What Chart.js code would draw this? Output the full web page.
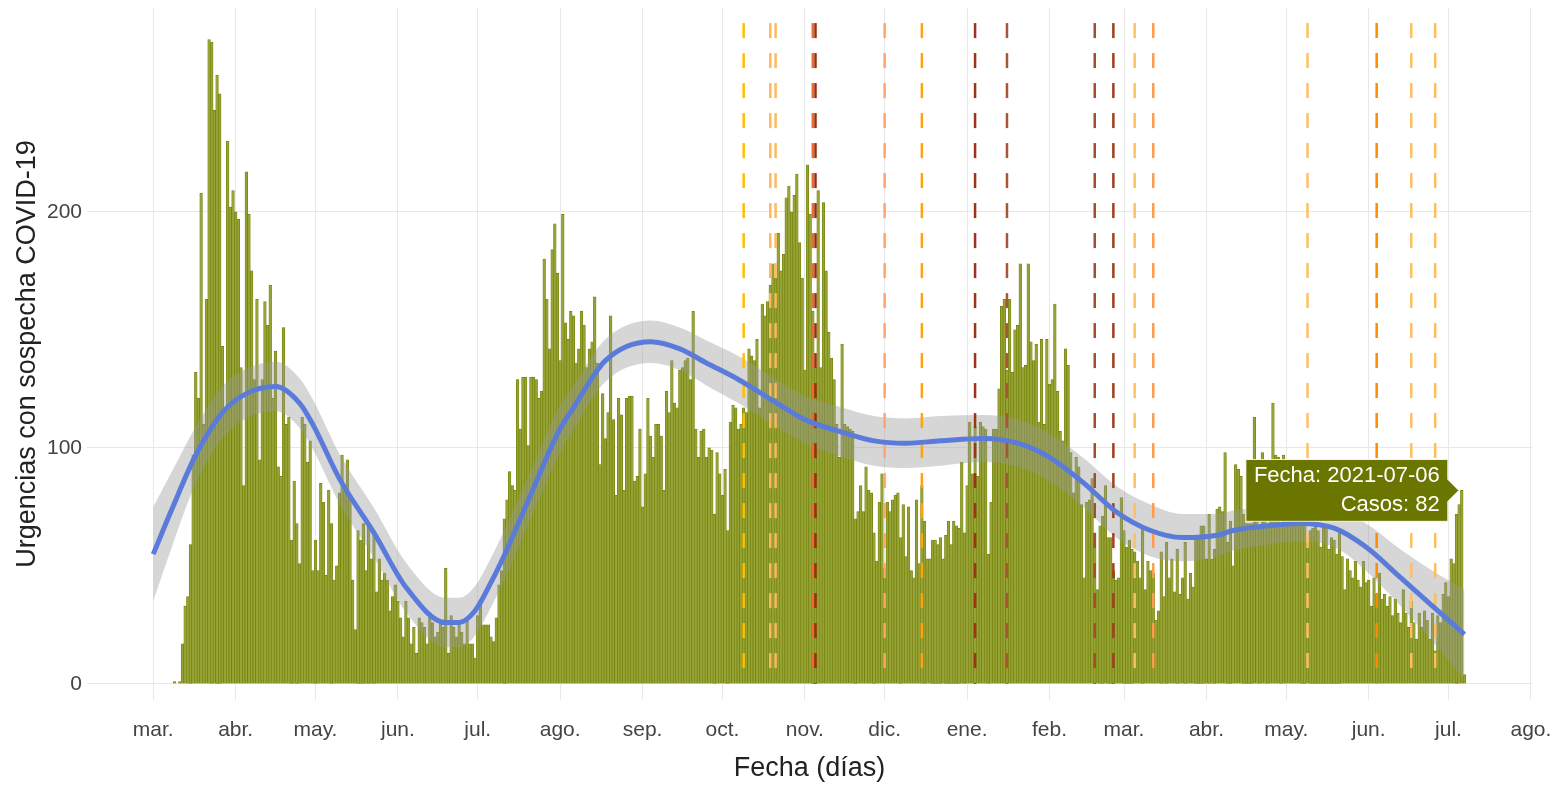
<!DOCTYPE html>
<html lang="es">
<head>
<meta charset="utf-8">
<title>Urgencias con sospecha COVID-19</title>
<script src="https://cdn.jsdelivr.net/npm/chart.js@4.4.1/dist/chart.umd.min.js"></script>
<style>
  html, body { margin: 0; padding: 0; background: #fff; }
  #grafico { display: block; }
</style>
</head>
<body>
<canvas id="grafico" width="1560" height="785"></canvas>
<script>
// Fechas base
const ORIGEN = '2020-03-01';
const fechaInicio = '2020-03-09';

// Urgencias diarias desde fechaInicio (una por dia)
const casos = [
    1, 0, 1,
    17, 33, 37, 59, 97, 132, 121, 208, 110, 163,
    273, 272, 243, 258, 250, 143, 116, 230, 202, 209,
    200, 197, 134, 84, 217, 199, 175, 129, 163, 95,
    129, 162, 152, 169, 121, 141, 92, 88, 151, 110,
    113, 61, 86, 68, 51, 113, 110, 94, 103, 48,
    61, 48, 85, 77, 46, 82, 68, 44, 50, 81,
    97, 83, 95, 79, 44, 23, 65, 61, 68, 48,
    67, 53, 63, 39, 53, 44, 47, 44, 31, 37,
    42, 35, 28, 20, 35, 28, 17, 24, 13, 28,
    26, 24, 17, 30, 26, 20, 22, 26, 24, 49,
    13, 29, 24, 20, 26, 22, 17, 28, 17, 17,
    11, 29, 35, 25, 25, 25, 20, 18, 28, 42,
    48, 70, 78, 90, 84, 82, 129, 108, 130, 130,
    101, 130, 130, 129, 121,
    124, 180, 163, 142, 184, 195, 174, 137, 199, 153,
    146, 158, 156, 136, 142, 158, 152, 134, 142, 145,
    164, 136, 93, 123, 104, 115, 156, 112, 80, 121,
    114, 82, 121, 122, 122, 86, 88, 108, 75, 89,
    121, 105, 96, 110, 110, 105, 82, 124, 115, 137,
    119, 117, 133, 134, 137, 138, 129, 158, 108, 96,
    107, 108, 96, 100, 99, 72, 98, 89, 80, 91,
    65, 111, 118, 117, 108, 110, 117, 115, 142, 139,
    137, 146, 117, 161, 156, 162, 169, 178, 172, 191,
    175, 182, 206, 211, 200, 207, 216, 187, 172, 133,
    220, 199, 158, 134, 209, 134, 204, 175, 149, 138,
    129, 110, 96, 144, 110, 109, 108, 107, 70, 73,
    84, 73, 92, 82, 81, 64, 52, 77, 89, 49,
    77, 73, 78, 80, 81, 62, 76, 54, 75, 48,
    45, 78, 51, 84, 69, 53, 53, 61, 61, 59,
    62, 53, 63, 69,
    59, 69, 67, 66, 94, 64, 84, 111, 89, 109,
    88, 111, 109, 108, 55, 77, 108, 108, 125, 160,
    163, 133, 163, 132, 150, 152, 178, 134, 135, 178,
    145, 137, 144, 111, 146, 110, 146, 127, 129, 161,
    124, 107, 103, 142, 135, 98, 81, 96, 92, 76,
    45, 77, 78, 87, 64, 40, 67, 71, 84, 62,
    62, 48, 44, 45, 79, 65, 58, 61, 57, 56,
    52, 45, 66, 40, 52, 48, 47, 27, 31, 56,
    37, 60, 45, 53, 39, 57, 38, 45, 60, 36,
    47, 41, 63, 63, 67, 67, 53, 72, 53, 57,
    74,
    75, 73, 98, 60, 69, 50, 93, 91, 88, 72,
    68, 68, 68, 113, 85, 67, 98, 91, 67, 93,
    119, 97, 96, 68, 97, 86, 78, 92, 80, 75,
    88, 70, 72,
    60, 65, 66, 67, 65, 58, 66, 66, 57, 62,
    61, 55, 65, 54, 40, 53, 48, 45, 52, 44,
    41, 52, 43, 44, 33, 45, 38, 47, 36, 38,
    33, 37, 29, 36, 30, 26, 40, 30, 24, 35,
    26, 19, 30, 24, 31, 27, 19, 30, 14, 29,
    26, 38, 43, 37, 53, 51, 72, 76, 82,
    4
];

// Eje x: meses
const mesesFechas = [
    '2020-03-01', '2020-04-01', '2020-05-01', '2020-06-01', '2020-07-01', '2020-08-01',
    '2020-09-01', '2020-10-01', '2020-11-01', '2020-12-01', '2021-01-01', '2021-02-01',
    '2021-03-01', '2021-04-01', '2021-05-01', '2021-06-01', '2021-07-01', '2021-08-01'
];
const mesesEtiquetas = [
    'mar.', 'abr.', 'may.', 'jun.', 'jul.', 'ago.', 'sep.', 'oct.', 'nov.',
    'dic.', 'ene.', 'feb.', 'mar.', 'abr.', 'may.', 'jun.', 'jul.', 'ago.'
];
const yTicks = [0, 100, 200];

// Curva suavizada (dias desde ORIGEN) y margen del intervalo
const diasSuave = [0, 7, 16, 26, 35, 46, 55, 60, 70, 83, 95, 110, 115, 121, 127, 133, 143, 152,
    158, 170, 187, 198, 208, 220, 233, 245, 258, 271, 283, 296, 312, 325, 337, 350, 362, 375,
    387, 400, 406, 419, 431, 444, 456, 469, 481, 493];
const valoresSuave = [55, 74, 97, 115, 123, 126, 119, 110, 87, 64, 41, 26, 26, 31, 43, 57, 83, 106,
    117, 137, 145, 142, 136, 129, 120, 112, 107, 103, 102, 103, 104, 102, 96, 85, 73, 65,
    62, 63, 65, 67, 68, 66, 58, 45, 33, 21];
const margenIC = [20, 16, 12, 11, 10.5, 10.5, 10.5, 10.5, 10.5, 10.5, 10.5, 10.5, 10.5, 10.5, 10.5, 10.5, 10, 10,
    9.5, 9, 9, 9, 9.5, 10, 10, 10, 10.5, 10.5, 10.5, 10.5, 10, 10, 10, 10.5, 11, 11,
    10, 9, 8.5, 8, 7.5, 8, 10, 12, 15, 19];

// Lineas verticales discontinuas
const lineasFechas = [
    '2020-10-09', '2020-10-19', '2020-10-21', '2020-11-04', '2020-11-05', '2020-12-01',
    '2020-12-15', '2021-01-04', '2021-01-16', '2021-02-18', '2021-02-25', '2021-03-05',
    '2021-03-12', '2021-05-09', '2021-06-04', '2021-06-17', '2021-06-26'
];
const lineasColores = [
    '#ffc000', '#ffb85c', '#ffb85c', '#ec6a32', '#9a2e0c', '#ffa46c',
    '#ffa30f', '#9c3416', '#aa5536', '#a44c2e', '#a0401f', '#ffc062',
    '#ff9d4e', '#ffc062', '#ff8c00', '#ffc062', '#ffbe58'
];
const lineaTope = 280;

const fechaDestacada = '2021-07-06';

const FUENTE = '"Liberation Sans", Arial, sans-serif';
const dia = s => (Date.parse(s) - Date.parse(ORIGEN)) / 86400000;
const aFecha = x => new Date(Date.parse(ORIGEN) + x * 86400000).toISOString().slice(0, 10);

const x0 = dia(fechaInicio);
const barras = casos.map((v, i) => ({ x: x0 + i, y: v }));
const suave = diasSuave.map((d, i) => ({ x: d, y: valoresSuave[i] }));
const icInf = diasSuave.map((d, i) => ({ x: d, y: valoresSuave[i] - margenIC[i] }));
const icSup = diasSuave.map((d, i) => ({ x: d, y: valoresSuave[i] + margenIC[i] }));

const lineas = lineasFechas.map((f, i) => ({
    type: 'line',
    data: [{ x: dia(f), y: lineaTope }, { x: dia(f), y: 0 }],
    borderColor: lineasColores[i],
    borderWidth: 2.5,
    borderDash: [15, 15],
    pointRadius: 0,
    fill: false,
    order: 5
}));

const chart = new Chart(document.getElementById('grafico'), {
    type: 'bar',
    data: {
        datasets: [
            {
                label: 'Casos',
                data: barras,
                backgroundColor: '#97a435',
                borderColor: '#72800a',
                borderWidth: 0.7,
                barPercentage: 1,
                categoryPercentage: 1,
                order: 10
            },
            {
                type: 'line',
                data: icInf,
                borderWidth: 0,
                borderColor: 'transparent',
                pointRadius: 0,
                fill: false,
                cubicInterpolationMode: 'monotone',
                order: 8
            },
            {
                type: 'line',
                data: icSup,
                borderWidth: 0,
                borderColor: 'transparent',
                backgroundColor: 'rgba(153,153,153,0.4)',
                pointRadius: 0,
                fill: '-1',
                cubicInterpolationMode: 'monotone',
                order: 8
            },
            {
                type: 'line',
                data: suave,
                borderColor: '#5b7bda',
                borderWidth: 5,
                pointRadius: 0,
                fill: false,
                cubicInterpolationMode: 'monotone',
                order: 1
            },
            ...lineas
        ]
    },
    options: {
        responsive: false,
        devicePixelRatio: 1,
        animation: false,
        events: [],
        layout: { padding: { top: 8, right: 28, left: 0, bottom: 0 } },
        plugins: {
            legend: { display: false },
            tooltip: {
                backgroundColor: '#6b7600',
                borderColor: 'rgba(255,255,255,0.85)',
                borderWidth: 1,
                cornerRadius: 0,
                caretSize: 11,
                caretPadding: 3,
                xAlign: 'right',
                yAlign: 'center',
                displayColors: false,
                bodyColor: '#ffffff',
                bodyAlign: 'right',
                bodyFont: { family: FUENTE, size: 22 },
                bodySpacing: 3,
                padding: { top: 3, bottom: 3, left: 8, right: 8 },
                callbacks: {
                    title: () => '',
                    label: ctx => ['Fecha: ' + aFecha(ctx.parsed.x), 'Casos: ' + ctx.parsed.y]
                }
            }
        },
        scales: {
            x: {
                type: 'linear',
                min: -24.9,
                max: 518.4,
                offset: false,
                afterBuildTicks: s => { s.ticks = mesesFechas.map(f => ({ value: dia(f) })); },
                afterFit: s => { s.height = 85; s.paddingLeft = 0; s.paddingRight = 0; },
                ticks: {
                    autoSkip: false,
                    maxRotation: 0,
                    padding: 18,
                    color: '#444',
                    font: { family: FUENTE, size: 21 },
                    callback: (v, i) => mesesEtiquetas[i]
                },
                grid: { color: '#e8e8e8', drawTicks: false, offset: false },
                border: { display: false },
                title: {
                    display: true,
                    text: 'Fecha (días)',
                    color: '#222',
                    font: { family: FUENTE, size: 27 },
                    padding: { top: 0, bottom: 0 }
                }
            },
            y: {
                min: -6.8,
                max: 286.4,
                afterBuildTicks: s => { s.ticks = yTicks.map(v => ({ value: v })); },
                afterFit: s => { s.width = 87; s.paddingTop = 0; s.paddingBottom = 0; },
                ticks: {
                    padding: 5,
                    color: '#444',
                    font: { family: FUENTE, size: 21 }
                },
                grid: { color: '#e8e8e8', drawTicks: false },
                border: { display: false },
                title: {
                    display: true,
                    text: 'Urgencias con sospecha COVID-19',
                    color: '#222',
                    font: { family: FUENTE, size: 27 },
                    padding: { top: 11, bottom: 0 }
                }
            }
        }
    }
});

// Etiqueta fija sobre el dia destacado
const idx = dia(fechaDestacada) - x0;
const barra = chart.getDatasetMeta(0).data[idx];
chart.tooltip.setActiveElements([{ datasetIndex: 0, index: idx }], { x: barra.x, y: barra.y });
chart.update();
</script>
</body>
</html>
